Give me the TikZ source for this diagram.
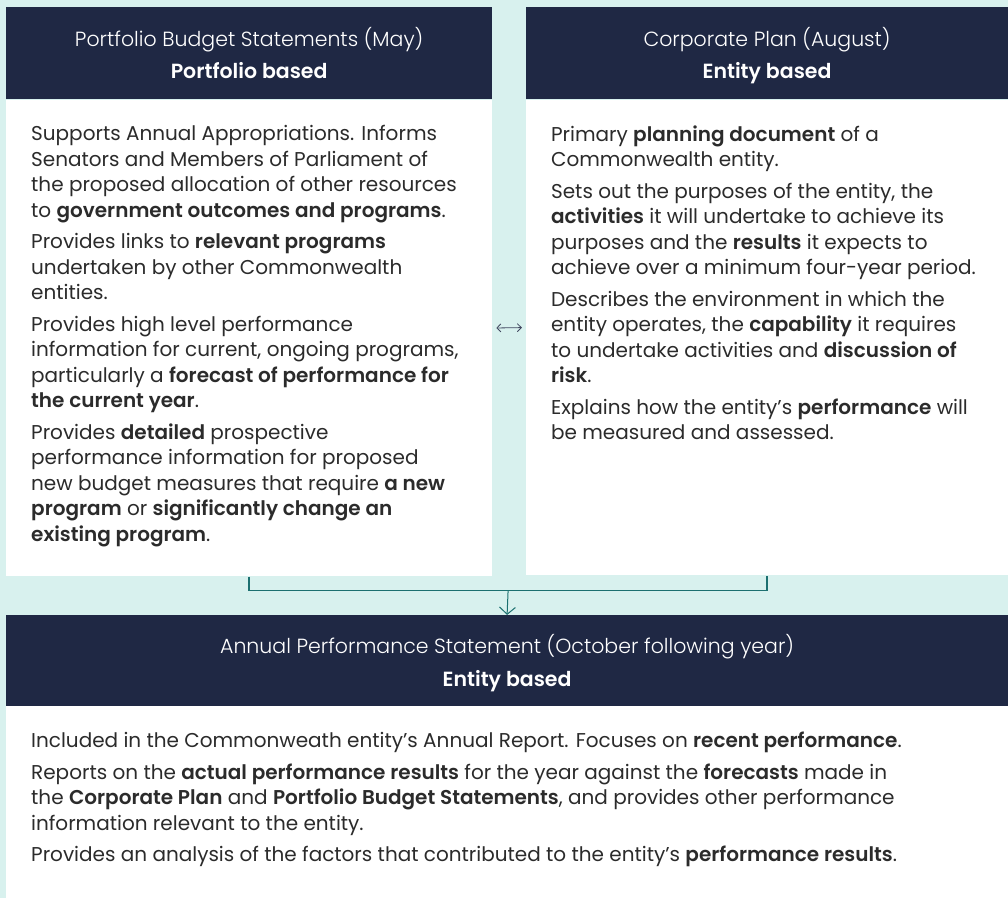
\documentclass[tikz,border=0pt]{standalone}
\usepackage{fontspec}
\setmainfont{Poppins}[BoldFont={Poppins SemiBold}]
\newfontfamily\headfont{Poppins Light}
\usetikzlibrary{arrows.meta,positioning,calc}
\definecolor{mint}{HTML}{D8F1EE}
\definecolor{navy}{HTML}{1F2844}
\definecolor{linkteal}{HTML}{1C7070}
\definecolor{ink}{HTML}{2B2B2B}

\begin{document}
\begin{tikzpicture}[x=1pt,y=-1pt,
    headbox/.style={fill=navy,anchor=north west,inner sep=0pt},
    headline/.style={text=white,anchor=base,inner sep=0pt,font=\fontsize{20.5}{25}\selectfont},
    bodybox/.style={fill=white,anchor=north west,inner sep=0pt},
    bodytext/.style={text=ink,align=left,anchor=north west,inner sep=0pt,
      font=\fontsize{20}{25.5}\selectfont},
    link/.style={linkteal,line width=1.5pt}]
  % background
  \fill[mint] (0,0) rectangle (1008,898);

  % Portfolio Budget Statements
  \node[headbox,minimum width=486pt,minimum height=92pt] (pbshead) at (6,7) {};
  \node[headline] (pbstitle) at ([yshift=-39.5pt]pbshead.north) {\headfont Portfolio Budget Statements (May)};
  \node[headline] (pbsbasis) at ([yshift=-71.5pt]pbshead.north) {\textbf{Portfolio based}};
  \node[bodybox,minimum width=486pt,minimum height=477pt] (pbsbody) at (pbshead.south west) {};
  \node[bodytext] (pbstext) at (31,125.5) {%
    Supports Annual Appropriations. Informs\\
    Senators and Members of Parliament of\\
    the proposed allocation of other resources\\
    to \textbf{government outcomes and programs}.\\[6pt]
    Provides links to \textbf{relevant programs}\\
    undertaken by other Commonwealth\\
    entities.\\[6pt]
    Provides high level performance\\
    information for current, ongoing programs,\\
    particularly a \textbf{forecast of performance for}\\
    \textbf{the current year}.\\[6pt]
    Provides \textbf{detailed} prospective\\
    performance information for proposed\\
    new budget measures that require \textbf{a new}\\
    \textbf{program} or \textbf{significantly change an}\\
    \textbf{existing program}.};

  % Corporate Plan
  \node[headbox,minimum width=482pt,minimum height=92pt] (cphead) at (526,7) {};
  \node[headline] (cptitle) at ([yshift=-39.5pt]cphead.north) {\headfont Corporate Plan (August)};
  \node[headline] (cpbasis) at ([yshift=-71.5pt]cphead.north) {\textbf{Entity based}};
  \node[bodybox,minimum width=482pt,minimum height=476pt] (cpbody) at (cphead.south west) {};
  \node[bodytext] (cptext) at (551,125.5) {%
    Primary \textbf{planning document} of a\\
    Commonwealth entity.\\[6pt]
    Sets out the purposes of the entity, the\\
    \textbf{activities} it will undertake to achieve its\\
    purposes and the \textbf{results} it expects to\\
    achieve over a minimum four-year period.\\[6pt]
    Describes the environment in which the\\
    entity operates, the \textbf{capability} it requires\\
    to undertake activities and \textbf{discussion of}\\
    \textbf{risk}.\\[6pt]
    Explains how the entity’s \textbf{performance} will\\
    be measured and assessed.};

  % Annual Performance Statement
  \node[headbox,minimum width=1002pt,minimum height=91pt] (apshead) at (6,615) {};
  \node[headline] (apstitle) at ([yshift=-38.5pt]apshead.north) {\headfont Annual Performance Statement (October following year)};
  \node[headline] (apsbasis) at ([yshift=-71.5pt]apshead.north) {\textbf{Entity based}};
  \node[bodybox,minimum width=1002pt,minimum height=192pt] (apsbody) at (apshead.south west) {};
  \node[bodytext] (apstext) at (31,732) {%
    Included in the Commonweath entity’s Annual Report. Focuses on \textbf{recent performance}.\\[6pt]
    Reports on the \textbf{actual performance results} for the year against the \textbf{forecasts} made in\\
    the \textbf{Corporate Plan} and \textbf{Portfolio Budget Statements}, and provides other performance\\
    information relevant to the entity.\\[6pt]
    Provides an analysis of the factors that contributed to the entity’s \textbf{performance results}.};

  % connectors
  \draw[navy!85,line width=0.8pt,{Straight Barb[length=4pt,width=8pt]}-{Straight Barb[length=4pt,width=8pt]},
    shorten <=4pt,shorten >=4pt] ([yshift=10pt]pbsbody.east) -- ([yshift=10pt]cpbody.west);
  \coordinate (join) at ($(pbsbody.south)!0.5!(cpbody.south)+(0,14)$);
  \draw[link] (pbsbody.south) -- ++(0,14) -| (cpbody.south);
  \draw[link,line width=1pt,-{Straight Barb[length=7pt,width=16pt]}] (join) -- (apshead.north);
\end{tikzpicture}
\end{document}
